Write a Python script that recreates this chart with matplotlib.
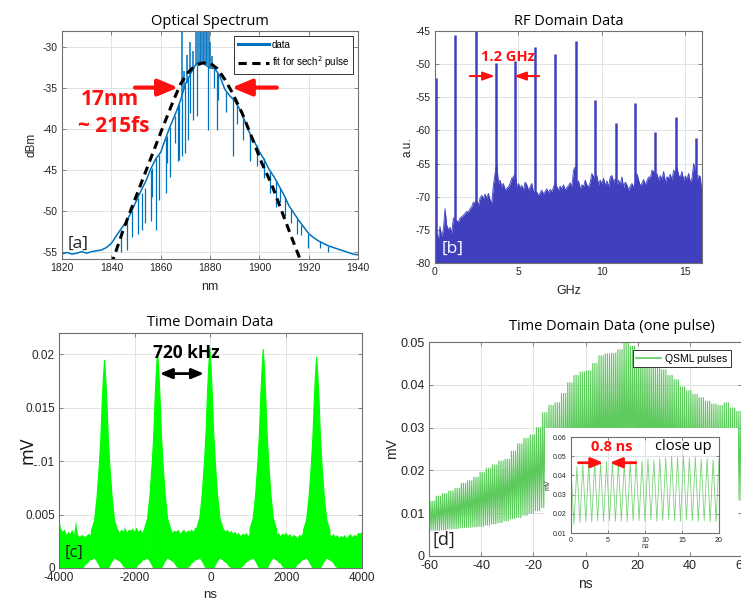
import numpy as np
import matplotlib
matplotlib.use('Agg')
import matplotlib.pyplot as plt
from matplotlib.lines import Line2D
from matplotlib.patches import Rectangle

plt.rcParams['font.family'] = ['Liberation Sans', 'DejaVu Sans']
plt.rcParams['axes.unicode_minus'] = False
SANS2 = ['Open Sans', 'DejaVu Sans']

# ---------------- [a] optical spectrum ----------------
spec_nm = np.arange(1820, 1941, 2)
spec_dbm = [-55.3, -55.1, -55.3, -55.2, -55.0, -55.2, -55.0, -54.9, -54.8, -54.5,
            -54.0, -53.1, -52.2, -51.4, -50.2, -48.9, -47.6, -46.4, -44.9, -43.7,
            -42.9, -41.2, -39.6, -38.2, -36.6, -34.6, -33.4, -32.3, -31.8, -32.2,
            -32.6, -32.7, -33.6, -35.2, -36.0, -36.6, -37.6, -39.0, -40.5, -41.6,
            -42.8, -43.8, -45.0, -45.9, -47.0, -48.1, -49.4, -50.3, -51.2, -52.0,
            -52.8, -53.3, -53.7, -54.0, -54.3, -54.5, -54.7, -54.9, -55.1, -55.3,
            -55.4]
# narrow absorption dips: position, line level, bottom of the dip
dip_nm = [1844.0, 1846.2, 1848.2, 1850.9, 1852.5, 1853.6, 1855.9, 1856.3, 1858.3,
          1859.4, 1862.0, 1862.4, 1863.7, 1865.8, 1867.1, 1867.4, 1868.5, 1869.9,
          1871.2, 1871.9, 1873.2, 1874.6, 1879.3, 1881.5, 1883.0, 1883.4, 1886.5,
          1889.2, 1891.0, 1893.3, 1896.3, 1899.0, 1901.7, 1904.4, 1906.8, 1908.5,
          1910.5, 1913.0, 1915.2, 1917.0, 1919.9, 1924.7, 1928.0]
dip_top = [-52.4, -51.3, -50.1, -48.5, -47.8, -47.2, -45.0, -44.8, -43.6,
           -43.2, -41.2, -40.9, -39.8, -38.5, -37.4, -37.0, -36.3, -34.7,
           -33.7, -33.4, -32.7, -32.2, -32.4, -32.7, -33.2, -33.4, -35.4,
           -36.3, -37.0, -38.3, -40.6, -42.0, -43.6, -45.2, -46.4, -47.3,
           -48.4, -49.9, -51.0, -51.8, -52.8, -53.7, -54.3]
dip_bottom = [-55.0, -54.8, -53.2, -52.8, -52.4, -51.5, -51.3, -48.3, -52.4,
              -48.7, -47.9, -44.2, -45.9, -41.8, -44.0, -43.8, -43.4, -43.0,
              -41.4, -38.1, -38.9, -38.5, -40.2, -35.0, -40.2, -36.5, -38.0,
              -43.4, -39.5, -41.4, -44.0, -44.5, -46.0, -47.9, -49.5, -49.0,
              -50.7, -51.5, -52.8, -53.0, -54.6, -54.6, -55.0]
# upward spikes near the centre
spike_nm = [1868.7, 1869.5, 1870.5, 1872.0, 1873.0, 1874.5, 1875.2, 1875.8,
            1876.4, 1877.0, 1877.6, 1878.2, 1878.8, 1879.5, 1880.2, 1881.0]
spike_base = [-36.3, -35.2, -34.5, -33.3, -32.8, -32.2, -32.0, -31.9,
              -31.8, -31.9, -32.0, -32.1, -32.2, -32.4, -32.6, -32.7]
spike_top = [-28.1, -33.0, -31.0, -29.5, -30.5, -28.1, -28.1, -28.1,
             -28.1, -28.1, -28.1, -28.1, -28.1, -28.1, -29.5, -31.2]
fit_nm = [1840, 1845, 1850, 1855, 1860, 1865, 1868, 1871, 1874, 1877, 1880,
          1883, 1886, 1889, 1893, 1897, 1901, 1905, 1909, 1913, 1917]
fit_dbm = [-56.6, -52.2, -48.3, -44.4, -40.5, -36.7, -34.6, -33.2, -32.3, -32.0,
           -32.0, -32.7, -34.0, -35.6, -38.1, -41.1, -44.2, -46.8, -50.0, -53.2, -56.3]

# ---------------- [b] RF spectrum ----------------
rf_ghz = np.arange(0, 16.05, 0.1)
rf_floor = [-64.0, -75.6, -76.5, -74.5, -76.0, -75.0, -71.8, -74.3, -75.0, -74.6,
            -75.5, -73.2, -73.5, -73.6, -73.8, -73.2, -73.0, -72.8, -72.5, -72.2,
            -72.3, -71.8, -71.5, -70.8, -71.0, -70.5, -71.3, -70.2, -69.8, -70.3,
            -69.6, -70.2, -69.5, -70.5, -71.0, -68.2, -66.5, -65.0, -68.0, -67.5,
            -68.5, -68.0, -69.0, -68.7, -68.5, -68.0, -67.2, -67.0, -66.5, -68.5,
            -68.0, -68.6, -68.3, -69.0, -67.8, -68.2, -69.0, -68.5, -68.0, -69.3,
            -69.5, -69.3, -69.8, -69.4, -69.0, -69.6, -69.2, -68.8, -69.4, -68.9,
            -69.2, -68.6, -67.8, -68.5, -69.0, -68.4, -68.8, -68.2, -69.0, -68.6,
            -68.3, -67.9, -68.5, -66.0, -65.5, -68.0, -67.6, -68.8, -68.2, -68.5,
            -67.5, -68.2, -68.6, -67.8, -66.5, -67.0, -67.9, -66.8, -68.2, -67.5,
            -68.0, -67.2, -68.3, -67.6, -68.5, -67.0, -66.8, -67.8, -67.3, -68.4,
            -67.5, -68.2, -67.0, -68.6, -67.8, -68.2, -69.0, -68.4, -68.0, -68.6,
            -67.9, -66.5, -67.5, -68.3, -68.0, -67.4, -68.2, -67.6, -67.0, -67.2,
            -66.0, -66.2, -67.0, -66.5, -67.5, -66.8, -67.4, -66.2, -67.8, -67.0,
            -67.2, -66.6, -67.5, -66.0, -66.4, -65.5, -66.8, -67.0, -66.2, -67.5,
            -66.9, -67.3, -66.5, -67.8, -67.2, -65.0, -66.2, -67.5, -66.8, -67.0,
            -69.8]
rf_peak_ghz = [0.06, 1.20, 2.43, 3.63, 4.80, 6.02, 7.21, 8.43, 9.60, 10.82,
               12.01, 13.21, 14.42, 15.64]
rf_peak_db = [-52.1, -45.6, -45.0, -49.9, -49.6, -47.4, -48.4, -46.5, -55.4, -58.9,
              -55.9, -60.3, -58.0, -61.2]

# ---------------- [c] pulse train ----------------
td_ns = np.arange(-4000, 4001, 50)
td_floor_hi = [0.0048, 0.0037, 0.0034, 0.0036, 0.0031, 0.0034, 0.0032, 0.0036, 0.0031, 0.0044,
               0.0031, 0.0029, 0.0031, 0.0030, 0.0029, 0.0031, 0.0032, 0.0030, 0.0033, 0.0036,
               0.0038, 0.0040, 0.0042, 0.0045, 0.0045, 0.0042, 0.0040, 0.0038, 0.0036, 0.0037,
               0.0035, 0.0037, 0.0033, 0.0036, 0.0034, 0.0038, 0.0033, 0.0036, 0.0035, 0.0037,
               0.0034, 0.0038, 0.0034, 0.0036, 0.0033, 0.0036, 0.0032, 0.0035, 0.0037, 0.0039,
               0.0041, 0.0044, 0.0045, 0.0044, 0.0042, 0.0039, 0.0037, 0.0036, 0.0034, 0.0037,
               0.0033, 0.0035, 0.0034, 0.0036, 0.0032, 0.0034, 0.0036, 0.0033, 0.0035, 0.0034,
               0.0036, 0.0034, 0.0038, 0.0036, 0.0039, 0.0040, 0.0042, 0.0044, 0.0045, 0.0046,
               0.0046, 0.0044, 0.0043, 0.0040, 0.0038, 0.0036, 0.0035, 0.0037, 0.0034, 0.0036,
               0.0033, 0.0035, 0.0032, 0.0034, 0.0031, 0.0033, 0.0030, 0.0032, 0.0031, 0.0033,
               0.0030, 0.0032, 0.0034, 0.0036, 0.0039, 0.0042, 0.0044, 0.0045, 0.0046, 0.0045,
               0.0043, 0.0041, 0.0039, 0.0036, 0.0034, 0.0031, 0.0033, 0.0030, 0.0032, 0.0031,
               0.0033, 0.0030, 0.0032, 0.0029, 0.0031, 0.0030, 0.0028, 0.0031, 0.0030, 0.0033,
               0.0034, 0.0036, 0.0039, 0.0042, 0.0044, 0.0045, 0.0046, 0.0045, 0.0042, 0.0040,
               0.0037, 0.0035, 0.0033, 0.0031, 0.0030, 0.0032, 0.0029, 0.0031, 0.0028, 0.0030,
               0.0029, 0.0031, 0.0028, 0.0030, 0.0032, 0.0029, 0.0031, 0.0030, 0.0033, 0.0032,
               0.0034]
td_floor_lo = [0, 0, 0, 0, 0, 0, 0, 0, 0, 0,
               0, 0, 0, 0, 0.0003, 0.0004, 0.0006, 0.0008, 0.0009, 0.0010,
               0.0006, 0.0003, 0, 0, 0, 0, 0.0001, 0.0004, 0.0008, 0.0011,
               0.0009, 0.0007, 0.0006, 0.0004, 0.0001, 0, 0, 0, 0, 0,
               0, 0, 0.0003, 0.0004, 0.0006, 0.0008, 0.0009, 0.0010, 0.0006, 0.0003,
               0, 0, 0, 0, 0.0001, 0.0004, 0.0008, 0.0011, 0.0009, 0.0007,
               0.0006, 0.0004, 0.0001, 0, 0, 0, 0, 0, 0, 0.0001,
               0.0004, 0.0005, 0.0007, 0.0009, 0.0010, 0.0009, 0.0005, 0.0001, 0, 0,
               0, 0, 0.0002, 0.0006, 0.0009, 0.0010, 0.0009, 0.0006, 0.0005, 0.0003,
               0.0001, 0, 0, 0, 0, 0, 0, 0.0001, 0.0003, 0.0005,
               0.0006, 0.0009, 0.0010, 0.0009, 0.0006, 0.0002, 0, 0, 0, 0,
               0.0001, 0.0005, 0.0009, 0.0011, 0.0009, 0.0007, 0.0005, 0.0004, 0.0001, 0,
               0, 0, 0, 0, 0, 0, 0.0003, 0.0004, 0.0006, 0.0008,
               0.0009, 0.0010, 0.0006, 0.0003, 0, 0, 0, 0, 0.0001, 0.0004,
               0.0008, 0.0011, 0.0009, 0.0007, 0.0006, 0.0004, 0.0001, 0, 0, 0,
               0, 0, 0, 0, 0, 0, 0, 0, 0, 0,
               0]
pulse_ns = [-2810, -1410, -30, 1380, 2790]
pulse_mv = [0.0195, 0.0203, 0.0206, 0.0205, 0.0198]
pulse_off = [-350, -265, -200, -141, -100, -62, -35, -15, 0, 15, 35, 62, 100, 141, 200, 265, 350]
pulse_frac = [0.18, 0.23, 0.34, 0.49, 0.62, 0.80, 0.90, 0.96, 1.0,
              0.96, 0.90, 0.80, 0.62, 0.49, 0.34, 0.23, 0.18]
pulse_lo = [0.0008, 0.0010, 0.0007, 0.0003, 0, 0, 0, 0, 0,
            0, 0, 0, 0, 0.0003, 0.0007, 0.0010, 0.0008]

# ---------------- [d] one Q-switched envelope ----------------
env_ns = np.arange(51) * 2.4 - 60
env_hi = [0.0128, 0.0140, 0.0146, 0.0152, 0.0158, 0.0170, 0.0176, 0.0184, 0.0195, 0.0205,
          0.0213, 0.0222, 0.0226, 0.0245, 0.0262, 0.0275, 0.0283, 0.0300, 0.0335, 0.0352,
          0.0358, 0.0380, 0.0405, 0.0422, 0.0430, 0.0433, 0.0450, 0.0468, 0.0472, 0.0474,
          0.0482, 0.0498, 0.0490, 0.0475, 0.0462, 0.0452, 0.0445, 0.0435, 0.0422, 0.0412,
          0.0395, 0.0386, 0.0378, 0.0370, 0.0362, 0.0355, 0.0352, 0.0358, 0.0346, 0.0338,
          0.0340]
env_lo = [0.0060, 0.0060, 0.0061, 0.0063, 0.0064, 0.0066, 0.0067, 0.0068, 0.0069, 0.0072,
          0.0075, 0.0078, 0.0082, 0.0087, 0.0090, 0.0095, 0.0100, 0.0106, 0.0113, 0.0117,
          0.0120, 0.0126, 0.0132, 0.0138, 0.0142, 0.0145, 0.0148, 0.0150, 0.0150, 0.0152,
          0.0155, 0.0158, 0.0160, 0.0160, 0.0159, 0.0158, 0.0156, 0.0155, 0.0152, 0.0150,
          0.0150, 0.0147, 0.0145, 0.0142, 0.0140, 0.0140, 0.0137, 0.0134, 0.0132, 0.0130,
          0.0130]
ml_period = 0.8  # ns
zoom_peak = [0.0435, 0.0445, 0.0455, 0.0460, 0.0470, 0.0465, 0.0475, 0.0470, 0.0468,
             0.0465, 0.0472, 0.0478, 0.0475, 0.0485, 0.0480, 0.0488, 0.0492, 0.0500,
             0.0495, 0.0502, 0.0490, 0.0495, 0.0485, 0.0488, 0.0480, 0.0485]
zoom_trough = [0.0145, 0.0155, 0.0160, 0.0158, 0.0162, 0.0160, 0.0165, 0.0160, 0.0162,
               0.0158, 0.0163, 0.0165, 0.0160, 0.0168, 0.0162, 0.0165, 0.0170, 0.0165,
               0.0162, 0.0168, 0.0165, 0.0160, 0.0163, 0.0158, 0.0160]

BLUE = '#0072BD'
RF = '#4040BF'
GREEN = '#00FF00'
QS = '#5CCB5C'
RED = '#FF1010'
SPINE = '#707070'
TXT = '#262626'
W, H = 741, 602


def box(l, t, r, b):
    return [l / W, 1 - b / H, (r - l) / W, (b - t) / H]


def style(ax, size):
    ax.tick_params(direction='in', length=3, width=0.6, color=SPINE,
                   labelcolor=TXT, labelsize=size, top=True, right=True, pad=3)
    for s in ax.spines.values():
        s.set_color(SPINE)
        s.set_linewidth(0.8)
    ax.grid(True, color='#e2e2e2', lw=0.7)
    ax.set_axisbelow(True)


def arrow(ax, start, end, color, lw, ms, style='-|>,head_length=0.6,head_width=0.25'):
    ax.annotate('', xy=end, xytext=start,
                arrowprops=dict(arrowstyle=style, color=color, lw=lw,
                                mutation_scale=ms, shrinkA=0, shrinkB=0))


fig = plt.figure(figsize=(W / 100, H / 100), dpi=100)

# ---- [a]
ax = fig.add_axes(box(62, 31, 358, 259))
style(ax, 7.5)
ax.vlines(dip_nm, dip_bottom, dip_top, color=BLUE, lw=0.9)
ax.vlines(spike_nm, spike_base, spike_top, color=BLUE, lw=1.1)
ax.plot(spec_nm, spec_dbm, color=BLUE, lw=1.1)
ax.plot(fit_nm, fit_dbm, color='k', lw=2.2, ls=(0, (2.7, 1.8)))
ax.set_xlim(1820, 1940)
ax.set_ylim(-55.9, -28.1)
ax.set_xticks(range(1820, 1941, 20))
ax.set_yticks(range(-55, -29, 5))
ax.set_xlabel('nm', fontsize=9, color=TXT)
ax.set_ylabel('dBm', fontsize=8.5, color=TXT)
ax.xaxis.set_label_coords(0.5, -0.096)
ax.yaxis.set_label_coords(-0.084, 0.5)
ax.set_title('Optical Spectrum', fontsize=10.5, family=SANS2, pad=4)
handles = [Line2D([], [], color=BLUE, lw=2.2),
           Line2D([], [], color='k', lw=2.2, ls=(0, (2.7, 1.8)))]
leg = ax.legend(handles, ['data', 'fit for sech$^2$ pulse'], loc='upper right',
                fontsize=7, fancybox=False, edgecolor='#333333', framealpha=1,
                handlelength=3.2, handletextpad=0.3, labelspacing=0.45, borderpad=0.4)
leg.get_frame().set_linewidth(0.7)
ax.text(1839.4, -36.5, '17nm', color=RED, fontsize=15, fontweight='bold',
        family=SANS2, ha='center', va='center')
ax.text(1840.8, -39.8, '~ 215fs', color=RED, fontsize=15, fontweight='bold',
        family=SANS2, ha='center', va='center')
arrow(ax, (1849.6, -35.0), (1867.1, -35.0), RED, 3, 20)
arrow(ax, (1907.1, -35.0), (1888.8, -35.0), RED, 3, 20)
ax.text(1826.5, -54.0, '[a]', fontsize=12.5, family=SANS2, color='#222222',
        ha='center', va='center')

# ---- [b]
ax = fig.add_axes(box(435, 31, 702, 263))
style(ax, 7.5)
ax.fill_between(rf_ghz, -80, rf_floor, color=RF, lw=0)
ax.plot(rf_ghz, rf_floor, color=RF, lw=0.6)
ax.vlines(rf_peak_ghz, -80, rf_peak_db, color=RF, lw=1.8)
ax.set_xlim(0, 16)
ax.set_ylim(-80, -45)
ax.set_xticks([0, 5, 10, 15])
ax.set_yticks(range(-80, -44, 5))
ax.set_xlabel('GHz', fontsize=9, color=TXT)
ax.set_ylabel('a.u.', fontsize=8.5, color=TXT)
ax.xaxis.set_label_coords(0.5, -0.095)
ax.yaxis.set_label_coords(-0.081, 0.5)
ax.set_title('RF Domain Data', fontsize=10.5, family=SANS2, pad=4)
ax.text(4.34, -48.9, '1.2 GHz', color=RED, fontsize=10.5, fontweight='bold',
        family=SANS2, ha='center', va='center')
arrow(ax, (2.09, -51.8), (3.59, -51.8), RED, 1.5, 10, '-|>,head_length=0.7,head_width=0.25')
arrow(ax, (6.24, -51.8), (4.74, -51.8), RED, 1.5, 10, '-|>,head_length=0.7,head_width=0.25')
ax.text(1.04, -77.8, '[b]', fontsize=12.5, family=SANS2, color='white',
        ha='center', va='center')

# ---- [c]
ax = fig.add_axes(box(59, 333, 362, 568))
style(ax, 8.5)
pulse_ns_arr = np.array(pulse_ns)
far = np.abs(td_ns[:, None] - pulse_ns_arr[None, :]).min(axis=1) >= 300
ax.fill_between(td_ns, td_floor_lo, td_floor_hi, where=far, color=GREEN, lw=0)
for c, h in zip(pulse_ns, pulse_mv):
    ax.fill_between(c + np.array(pulse_off), pulse_lo, h * np.array(pulse_frac),
                    color=GREEN, lw=0.8, edgecolor=GREEN)
ax.set_xlim(-4000, 4000)
ax.set_ylim(0, 0.022)
ax.set_xticks(range(-4000, 4001, 2000))
ax.set_yticks([0, 0.005, 0.01, 0.015, 0.02])
ax.set_yticklabels(['0', '0.005', '0.01', '0.015', '0.02'])
ax.set_xlabel('ns', fontsize=9.5, color=TXT)
# the big label sits over the first digit of the 0.01 tick, as in the source
ax.set_ylabel('mV', fontsize=13, family=SANS2, color='#111111',
              bbox=dict(facecolor='white', edgecolor='none', pad=0.8))
ax.xaxis.set_label_coords(0.5, -0.089)
ax.yaxis.set_label_coords(-0.073, 0.5)
ax.set_title('Time Domain Data', fontsize=10.5, family=SANS2, pad=5)
ax.text(-631, 0.0201, '720 kHz', color='k', fontsize=12.5, fontweight='bold',
        family=SANS2, ha='center', va='center')
arrow(ax, (-1337, 0.0182), (-173, 0.0182), 'k', 2, 12,
      '<|-|>,head_length=0.6,head_width=0.25')
ax.text(-3612, 0.00144, '[c]', fontsize=12, family=SANS2, color='#222222',
        ha='center', va='center')

# ---- [d]
ax = fig.add_axes(box(429, 342, 742, 556))
style(ax, 9)
n_sub = int(round((env_ns[1] - env_ns[0]) / ml_period))
hi = np.repeat(env_hi[:-1], n_sub)
lo = np.repeat(env_lo[:-1], n_sub)
t_lo = env_ns[0] + ml_period * np.arange(len(hi))
t_trace = np.column_stack([t_lo, t_lo + ml_period / 2]).ravel()
y_trace = np.column_stack([lo, hi]).ravel()
ax.plot(t_trace, y_trace, color=QS, lw=0.8, label='QSML pulses', zorder=2)
ax.add_patch(Rectangle((0.3706, 0.0187), 0.6166, 0.5794, transform=ax.transAxes,
                       facecolor='white', edgecolor='none', zorder=3))
ax.set_xlim(-60, 60)
ax.set_ylim(0, 0.05)
ax.set_xticks(range(-60, 61, 20))
ax.set_yticks([0, 0.01, 0.02, 0.03, 0.04, 0.05])
ax.set_yticklabels(['0', '0.01', '0.02', '0.03', '0.04', '0.05'])
ax.set_xlabel('ns', fontsize=10, color=TXT)
ax.set_ylabel('mV', fontsize=10, color=TXT)
ax.xaxis.set_label_coords(0.5, -0.098)
ax.yaxis.set_label_coords(-0.096, 0.5)
ax.text(0.585, 1.0715, 'Time Domain Data (one pulse)', transform=ax.transAxes,
        fontsize=10.5, family=SANS2, ha='center', va='center')
leg = ax.legend(loc='upper right', fontsize=7.5, fancybox=False, edgecolor='#333333',
                framealpha=1, handlelength=2.4, handletextpad=0.4, borderpad=0.3,
                bbox_to_anchor=(0.981, 0.985))
leg.get_frame().set_linewidth(0.7)
leg.get_lines()[0].set_linewidth(1.2)
ax.text(-54.3, 0.0037, '[d]', fontsize=13, family=SANS2, color='#222222',
        ha='center', va='center', zorder=4)

# inset close up
ax = fig.add_axes(box(571, 437, 719, 533))
style(ax, 5)
ax.tick_params(length=2)
t_pk = ml_period * np.arange(len(zoom_peak))
t_tr = ml_period * (np.arange(len(zoom_trough)) + 0.5)
t_in = np.concatenate([np.column_stack([t_pk[:-1], t_tr]).ravel(), t_pk[-1:]])
y_in = np.concatenate([np.column_stack([zoom_peak[:-1], zoom_trough]).ravel(), zoom_peak[-1:]])
ax.plot(t_in, y_in, color='#78D478', lw=0.6)
ax.set_xlim(0, 20)
ax.set_ylim(0.01, 0.06)
ax.set_xticks([0, 5, 10, 15, 20])
ax.set_yticks([0.01, 0.02, 0.03, 0.04, 0.05, 0.06])
ax.set_yticklabels(['0.01', '0.02', '0.03', '0.04', '0.05', '0.06'])
ax.set_xlabel('ns', fontsize=5, color=TXT)
ax.set_ylabel('mV', fontsize=5, color=TXT)
ax.xaxis.set_label_coords(0.5, -0.104)
ax.yaxis.set_label_coords(-0.135, 0.5)
ax.text(5.48, 0.0548, '0.8 ns', color=RED, fontsize=10.5, fontweight='bold',
        family=SANS2, ha='center', va='center')
ax.text(15.2, 0.0548, 'close up', color='k', fontsize=10.5, family=SANS2,
        ha='center', va='center')
arrow(ax, (1.0, 0.0466), (4.36, 0.0466), RED, 2, 12, '-|>,head_length=0.6,head_width=0.25')
arrow(ax, (8.76, 0.0466), (5.26, 0.0466), RED, 2, 12, '-|>,head_length=0.6,head_width=0.25')

fig.savefig('out.png', dpi=100, facecolor='white')
